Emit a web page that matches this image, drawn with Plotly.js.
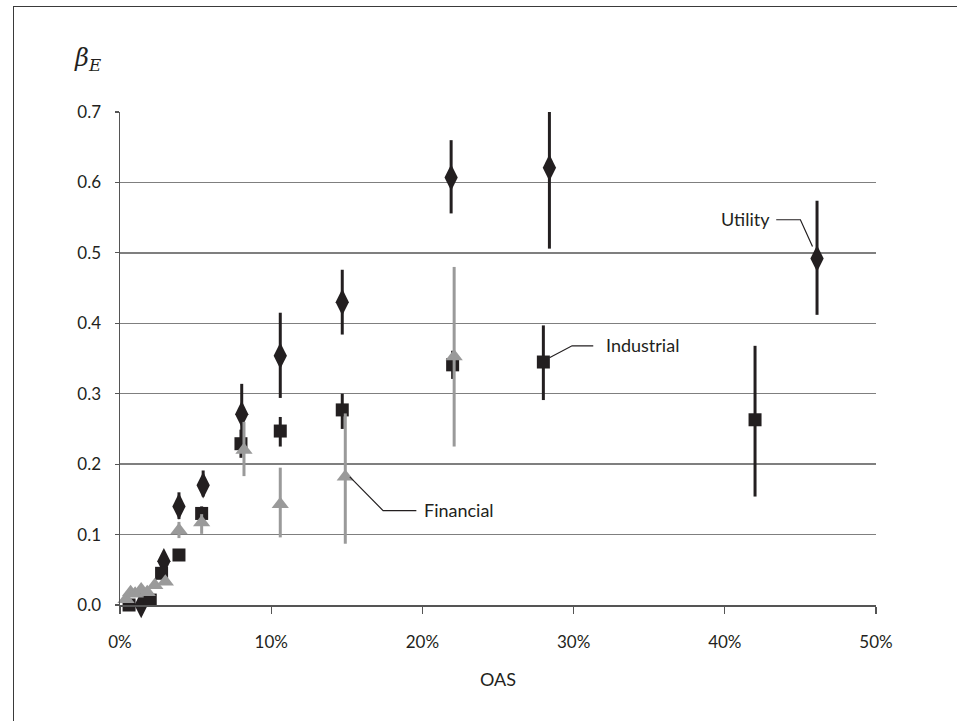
<!DOCTYPE html>
<html>
<head>
<meta charset="utf-8">
<script src="https://cdn.plot.ly/plotly-3.0.1.min.js"></script>
<style>
  html, body { margin: 0; padding: 0; background: #ffffff; }
  #frame { position: absolute; left: 13px; top: 6px; width: 960px; height: 730px;
           border-left: 1.5px solid #3a3a3a; border-top: 1.5px solid #3a3a3a; }
  #chart { position: absolute; left: 0; top: 0; width: 957px; height: 721px; }
</style>
</head>
<body>
<div id="frame"></div>
<div id="chart"></div>
<script>
// ---- Data (OAS in %, beta_E) ----
const oasUtility   = [0.6, 1.0, 1.4, 1.9, 2.9, 3.9, 5.5, 8.05, 10.6, 14.7, 21.9, 28.4, 46.1];
const betaUtility  = [-0.006, -0.009, 0.0, -0.009, 0.062, 0.140, 0.170, 0.271, 0.354, 0.430, 0.607, 0.621, 0.492];
const errUtilityHi = [0, 0, 0, 0, 0, 0.020, 0.021, 0.043, 0.061, 0.046, 0.053, 0.090, 0.082];
const errUtilityLo = [0, 0, 0, 0, 0, 0.018, 0.016, 0.040, 0.060, 0.046, 0.051, 0.115, 0.080];

const oasIndustrial   = [0.6, 1.1, 2.0, 2.75, 3.9, 5.4, 8.0, 10.6, 14.7, 22.0, 28.0, 42.0];
const betaIndustrial  = [0.0, -0.008, 0.007, 0.045, 0.071, 0.130, 0.229, 0.247, 0.277, 0.341, 0.345, 0.263];
const errIndustrialHi = [0, 0, 0, 0, 0, 0.010, 0.020, 0.020, 0.023, 0.020, 0.052, 0.105];
const errIndustrialLo = [0, 0, 0, 0, 0, 0.010, 0.020, 0.022, 0.027, 0.020, 0.054, 0.109];

const oasFinancial   = [0.4, 0.7, 1.0, 1.4, 1.8, 2.3, 3.0, 3.9, 5.4, 8.2, 10.6, 14.9, 22.1];
const betaFinancial  = [0.008, 0.018, 0.016, 0.022, 0.018, 0.028, 0.033, 0.106, 0.117, 0.220, 0.143, 0.182, 0.353];
const errFinancialHi = [0, 0, 0, 0, 0, 0, 0, 0.012, 0.012, 0.040, 0.052, 0.090, 0.127];
const errFinancialLo = [0, 0, 0, 0, 0, 0, 0, 0.011, 0.016, 0.037, 0.047, 0.095, 0.128];

const xTickVals = [0, 10, 20, 30, 40, 50];
const xTickText = ['0%', '10%', '20%', '30%', '40%', '50%'];
const yTickVals = [0, 0.1, 0.2, 0.3, 0.4, 0.5, 0.6, 0.7];
const yTickText = ['0.0', '0.1', '0.2', '0.3', '0.4', '0.5', '0.6', '0.7'];

// Label leader lines: [x, y] points, label anchor
const labelNames   = ['Utility', 'Industrial', 'Financial'];
const leaderX      = [[45.8, 45.0, 43.4], [28.4, 29.9, 31.3], [15.2, 17.4, 19.6]];
const leaderY      = [[0.509, 0.547, 0.547], [0.351, 0.368, 0.368], [0.182, 0.134, 0.134]];
const labelX       = [43.1, 32.0, 20.0];
const labelY       = [0.548, 0.369, 0.135];
const labelAnchor  = ['right', 'left', 'left'];

const ink = '#231f20';
const grey = '#9a9a9a';
const fontFam = 'Lato, "Open Sans", sans-serif';

function errs(hi, lo, color) {
  return { type: 'data', symmetric: false, array: hi, arrayminus: lo,
           color: color, thickness: 3, width: 0 };
}

const traces = [
  { x: oasUtility, y: betaUtility, type: 'scatter', mode: 'markers', name: 'Utility',
    cliponaxis: false,
    marker: { symbol: 'diamond-tall', size: 19, color: ink },
    error_y: errs(errUtilityHi, errUtilityLo, ink) },
  { x: oasIndustrial, y: betaIndustrial, type: 'scatter', mode: 'markers', name: 'Industrial',
    cliponaxis: false,
    marker: { symbol: 'square', size: 13, color: ink },
    error_y: errs(errIndustrialHi, errIndustrialLo, ink) },
  { x: oasFinancial, y: betaFinancial, type: 'scatter', mode: 'markers', name: 'Financial',
    cliponaxis: false,
    marker: { symbol: 'triangle-up', size: 15, color: grey },
    error_y: errs(errFinancialHi, errFinancialLo, grey) }
];

const shapes = leaderX.map((xs, i) => ({
  type: 'path', xref: 'x', yref: 'y',
  path: 'M ' + xs.map((xv, j) => xv + ',' + leaderY[i][j]).join(' L '),
  line: { color: ink, width: 1.2 }
}));

const annotations = labelNames.map((t, i) => ({
  x: labelX[i], y: labelY[i], xref: 'x', yref: 'y', text: t, showarrow: false,
  xanchor: labelAnchor[i], yanchor: 'middle',
  font: { family: fontFam, size: 18, color: ink }
}));
annotations.push({
  xref: 'paper', yref: 'paper', x: -0.022, y: 1.107, xanchor: 'right', yanchor: 'middle',
  showarrow: false,
  text: '<i>β</i><sub><i>E</i></sub>',
  font: { family: '"DejaVu Serif", serif', size: 24, color: ink }
});

const layout = {
  width: 957, height: 721,
  margin: { l: 120, r: 81, t: 112, b: 116 },
  paper_bgcolor: 'rgba(0,0,0,0)',
  plot_bgcolor: 'rgba(0,0,0,0)',
  showlegend: false,
  font: { family: fontFam, size: 17, color: ink },
  xaxis: {
    range: [0, 50], tickmode: 'array', tickvals: xTickVals, ticktext: xTickText,
    showgrid: false, zeroline: false,
    showline: true, linecolor: '#555555', linewidth: 1.5,
    ticks: 'outside', ticklen: 7, tickwidth: 1.2, tickcolor: '#555555',
    ticklabelstandoff: 14,
    tickfont: { family: fontFam, size: 17, color: ink },
    title: { text: 'OAS', standoff: 22, font: { family: fontFam, size: 18, color: ink } }
  },
  yaxis: {
    range: [0, 0.7], tickmode: 'array', tickvals: yTickVals, ticktext: yTickText,
    showgrid: true, gridcolor: '#7f7f7f', gridwidth: 1.5, zeroline: false,
    showline: true, linecolor: '#555555', linewidth: 1.5,
    ticks: 'outside', ticklen: 4, tickwidth: 1.2, tickcolor: '#555555',
    ticklabelstandoff: 10,
    tickfont: { family: fontFam, size: 17, color: ink }
  },
  shapes: shapes,
  annotations: annotations
};

Plotly.newPlot('chart', traces, layout, { displayModeBar: false, staticPlot: true });
</script>
</body>
</html>
